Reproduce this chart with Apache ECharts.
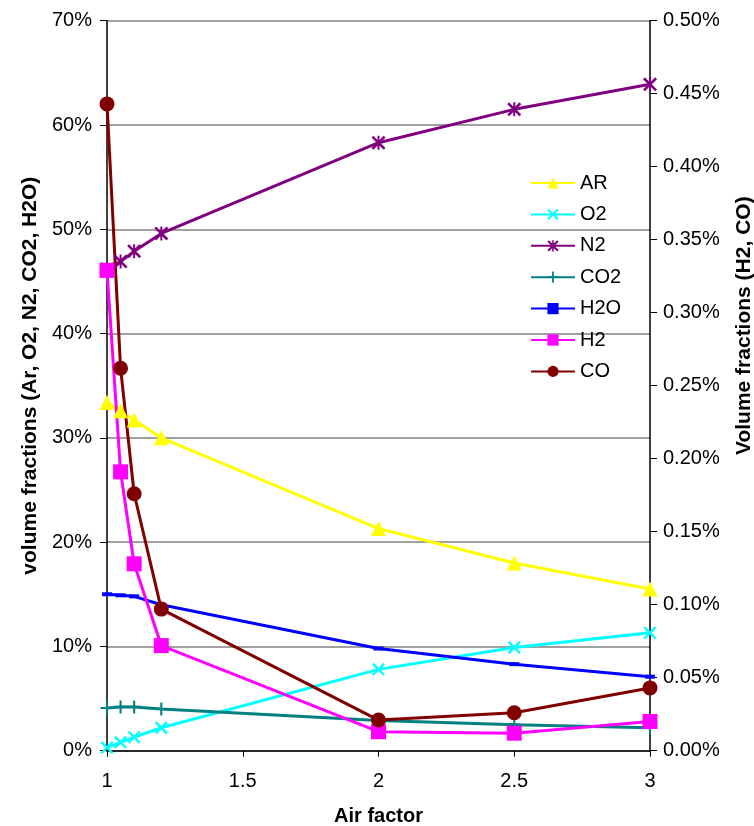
<!DOCTYPE html>
<html>
<head>
<meta charset="utf-8">
<script src="https://cdn.jsdelivr.net/npm/echarts@6/dist/echarts.min.js"></script>
<style>
html,body{margin:0;padding:0;background:#fff;overflow:hidden;}
#chart{width:754px;height:826px;}
</style>
</head>
<body>
<div id="chart"></div>
<script>
// Air factor (x) values
var airFactor = [1, 1.05, 1.1, 1.2, 2, 2.5, 3];
// Left axis series (volume %)
var AR  = [33.4, 32.6, 31.7, 30.0, 21.3, 18.0, 15.5];
var O2  = [0.3, 0.8, 1.3, 2.2, 7.8, 9.9, 11.3];
var N2  = [46.2, 46.9, 47.9, 49.6, 58.3, 61.5, 63.9];
var CO2 = [4.1, 4.2, 4.2, 4.0, 2.9, 2.5, 2.2];
var H2O = [15.0, 14.9, 14.8, 14.0, 9.8, 8.3, 7.1];
// Right axis series (volume %)
var H2  = [0.329, 0.191, 0.128, 0.072, 0.013, 0.012, 0.020];
var CO  = [0.443, 0.262, 0.176, 0.097, 0.021, 0.026, 0.043];

function pairs(ys){ return airFactor.map(function(x,i){ return [x, ys[i]]; }); }

var xPath = 'path://M0,1.3L1.3,0L10,8.7L8.7,10Z M8.7,0L10,1.3L1.3,10L0,8.7Z';
var starPath = 'path://M0,1.3L1.3,0L10,8.7L8.7,10Z M8.7,0L10,1.3L1.3,10L0,8.7Z M4.3,0L5.7,0L5.7,10L4.3,10Z';
var plusPath = 'path://M4.2,0L5.8,0L5.8,10L4.2,10Z M0,4.2L10,4.2L10,5.8L0,5.8Z';
var dashPath = 'path://M0,0L10,0L10,4L0,4Z';

var FONT = 'Liberation Sans, Arial, sans-serif';

function mk(name, data, color, symbol, size, yIdx, keep){
  return {
    name: name, type: 'line', yAxisIndex: yIdx, data: pairs(data),
    symbol: symbol, symbolSize: size, showAllSymbol: true,
    symbolKeepAspect: !!keep,
    lineStyle: {color: color, width: 3},
    itemStyle: {color: color},
    emphasis: {disabled: true},
    animation: false
  };
}

var chart = echarts.init(document.getElementById('chart'));
chart.setOption({
  backgroundColor: '#fff',
  textStyle: {fontFamily: FONT},
  grid: {left: 107, right: 104, top: 20.7, bottom: 75.3, outerBoundsMode: 'none'},
  legend: {
    orient: 'vertical', left: 530, top: 173, padding: 0,
    itemWidth: 44, itemHeight: 14, itemGap: 11.4,
    textStyle: {fontSize: 20, color: '#000', fontFamily: FONT},
    data: ['AR','O2','N2','CO2','H2O','H2','CO']
  },
  xAxis: {
    type: 'value', min: 1, max: 3, interval: 0.5,
    name: 'Air factor', nameLocation: 'middle', nameGap: 56,
    nameTextStyle: {fontSize: 20, fontWeight: 'bold', color: '#000', fontFamily: FONT},
    axisLine: {lineStyle: {color: '#000', width: 1.5}},
    axisTick: {show: true, inside: false, length: 6, lineStyle: {color: '#000'}},
    axisLabel: {fontSize: 20, color: '#000', margin: 21, formatter: function(v){ return String(v); }},
    splitLine: {show: false}
  },
  yAxis: [{
    type: 'value', min: 0, max: 70, interval: 10, position: 'left',
    name: 'volume fractions (Ar, O2, N2, CO2, H2O)', nameLocation: 'middle', nameGap: 61, nameRotate: 90,
    nameTextStyle: {fontSize: 21, fontWeight: 'bold', color: '#000', fontFamily: FONT, padding: [0,0,0,20]},
    axisLine: {show: true, lineStyle: {color: '#000', width: 1.5}},
    axisTick: {show: true, inside: false, length: 7, lineStyle: {color: '#000'}},
    axisLabel: {fontSize: 20, color: '#000', margin: 15, formatter: function(v){ return Math.round(v) + '%'; }},
    splitLine: {show: true, lineStyle: {color: '#808080', width: 1.5}}
  }, {
    type: 'value', min: 0, max: 0.5, interval: 0.05, position: 'right',
    name: 'Volume fractions (H2, CO)', nameLocation: 'middle', nameGap: 84, nameRotate: 90,
    nameTextStyle: {fontSize: 21, fontWeight: 'bold', color: '#000', fontFamily: FONT, padding: [0,0,0,120]},
    axisLine: {show: true, lineStyle: {color: '#000', width: 1.5}},
    axisTick: {show: true, inside: false, length: 7, lineStyle: {color: '#000'}},
    axisLabel: {fontSize: 20, color: '#000', margin: 13, formatter: function(v){ return v.toFixed(2) + '%'; }},
    splitLine: {show: false}
  }],
  series: [
    mk('AR', AR, '#FFFF00', 'triangle', 15, 0),
    mk('O2', O2, '#00FFFF', xPath, 13, 0),
    mk('N2', N2, '#800080', starPath, 14, 0),
    mk('CO2', CO2, '#008080', plusPath, 13, 0),
    mk('H2O', H2O, '#0000FF', dashPath, 10, 0, true),
    mk('H2', H2, '#FF00FF', 'rect', 15, 1),
    mk('CO', CO, '#800000', 'circle', 15, 1)
  ]
});
</script>
</body>
</html>
